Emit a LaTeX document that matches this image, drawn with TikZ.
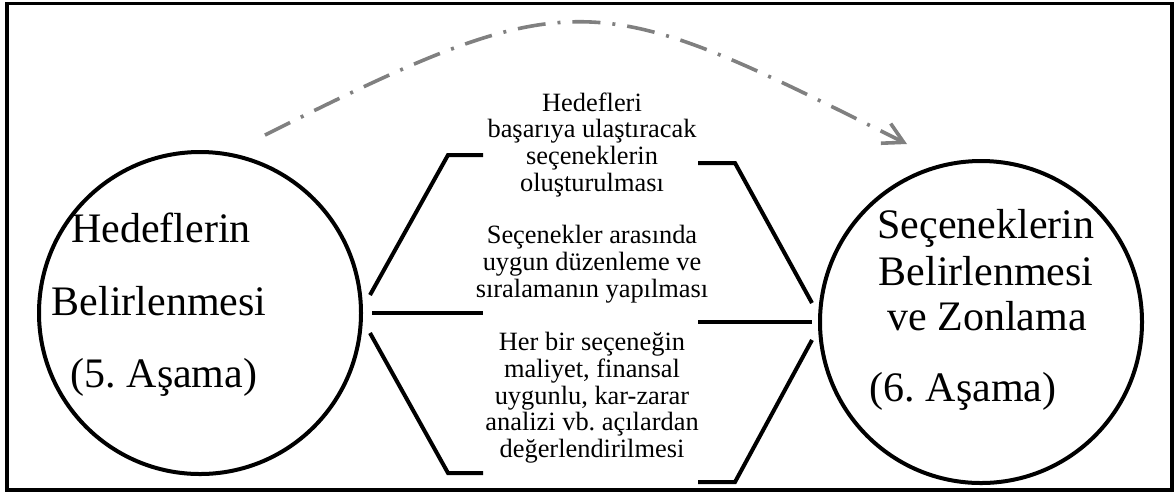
\documentclass[tikz,border=0pt]{standalone}
\usepackage{fontspec}
\setmainfont{Liberation Serif}
\usetikzlibrary{arrows.meta}
\frenchspacing

\begin{document}
\begin{tikzpicture}[x = 0.5pt, y = -0.5pt,
    stage/.style = {draw, circle, line width = 2pt, minimum size = 161pt, inner sep = 0},
    stagetext/.style = {anchor = base, inner sep = 0, font = \fontsize{21}{25}\selectfont},
    steptext/.style = {anchor = north, align = center, inner sep = 0, font = \fontsize{13.2}{13.35}\selectfont},
    bracket/.style = {line width = 2pt, line join = miter},
    flow/.style = {draw = black!50, line width = 1.8pt,
        dash pattern = on 14pt off 6pt on 1.5pt off 6pt,
        -{Straight Barb[length = 10pt, width = 11pt]}}]
    \useasboundingbox (0, 0) rectangle (1176, 495);

    %% frame
    \draw[line width = 1.75pt] (7, 3.5) rectangle (1172, 490);

    %% stages
    \node[stage] (goals) at (200, 313) {};
    \node[stage] (options) at (981, 322) {};
    \node[stagetext] (goalsA) at (161, 242) {Hedeflerin};
    \node[stagetext] (goalsB) at (159, 315) {Belirlenmesi};
    \node[stagetext] (goalsC) at (164, 387) {(5. Aşama)};
    \node[stagetext] (optionsA) at (986, 238) {Seçeneklerin};
    \node[stagetext] (optionsB) at (986, 285) {Belirlenmesi};
    \node[stagetext] (optionsC) at (987, 330) {ve Zonlama};
    \node[stagetext] (optionsD) at (963, 401) {(6. Aşama)};

    %% steps
    \node[steptext] (create) at (592, 92)
        {Hedefleri\\başarıya ulaştıracak\\seçeneklerin\\oluşturulması};
    \node[steptext] (order) at (592, 225)
        {Seçenekler arasında\\uygun düzenleme ve\\sıralamanın yapılması};
    \node[steptext] (assess) at (592, 332)
        {Her bir seçeneğin\\maliyet, finansal\\uygunlu, kar-zarar\\analizi vb. açılardan\\değerlendirilmesi};

    %% brackets
    \draw[bracket] (370, 295) -- (448, 155) -- (483, 155);
    \draw[bracket] (372, 313) -- (483, 313);
    \draw[bracket] (370, 333) -- (448, 473) -- (483, 473);
    \draw[bracket] (698, 163) -- (735, 163) -- (812, 303);
    \draw[bracket] (698, 322) -- (812, 322);
    \draw[bracket] (698, 482) -- (735, 482) -- (812, 340);

    %% flow
    \coordinate (from) at (265, 135);
    \coordinate (to) at (907, 144);
    \draw[flow] (from) .. controls (578, -21.5) and (594, -12.5) .. (to);
\end{tikzpicture}
\end{document}
